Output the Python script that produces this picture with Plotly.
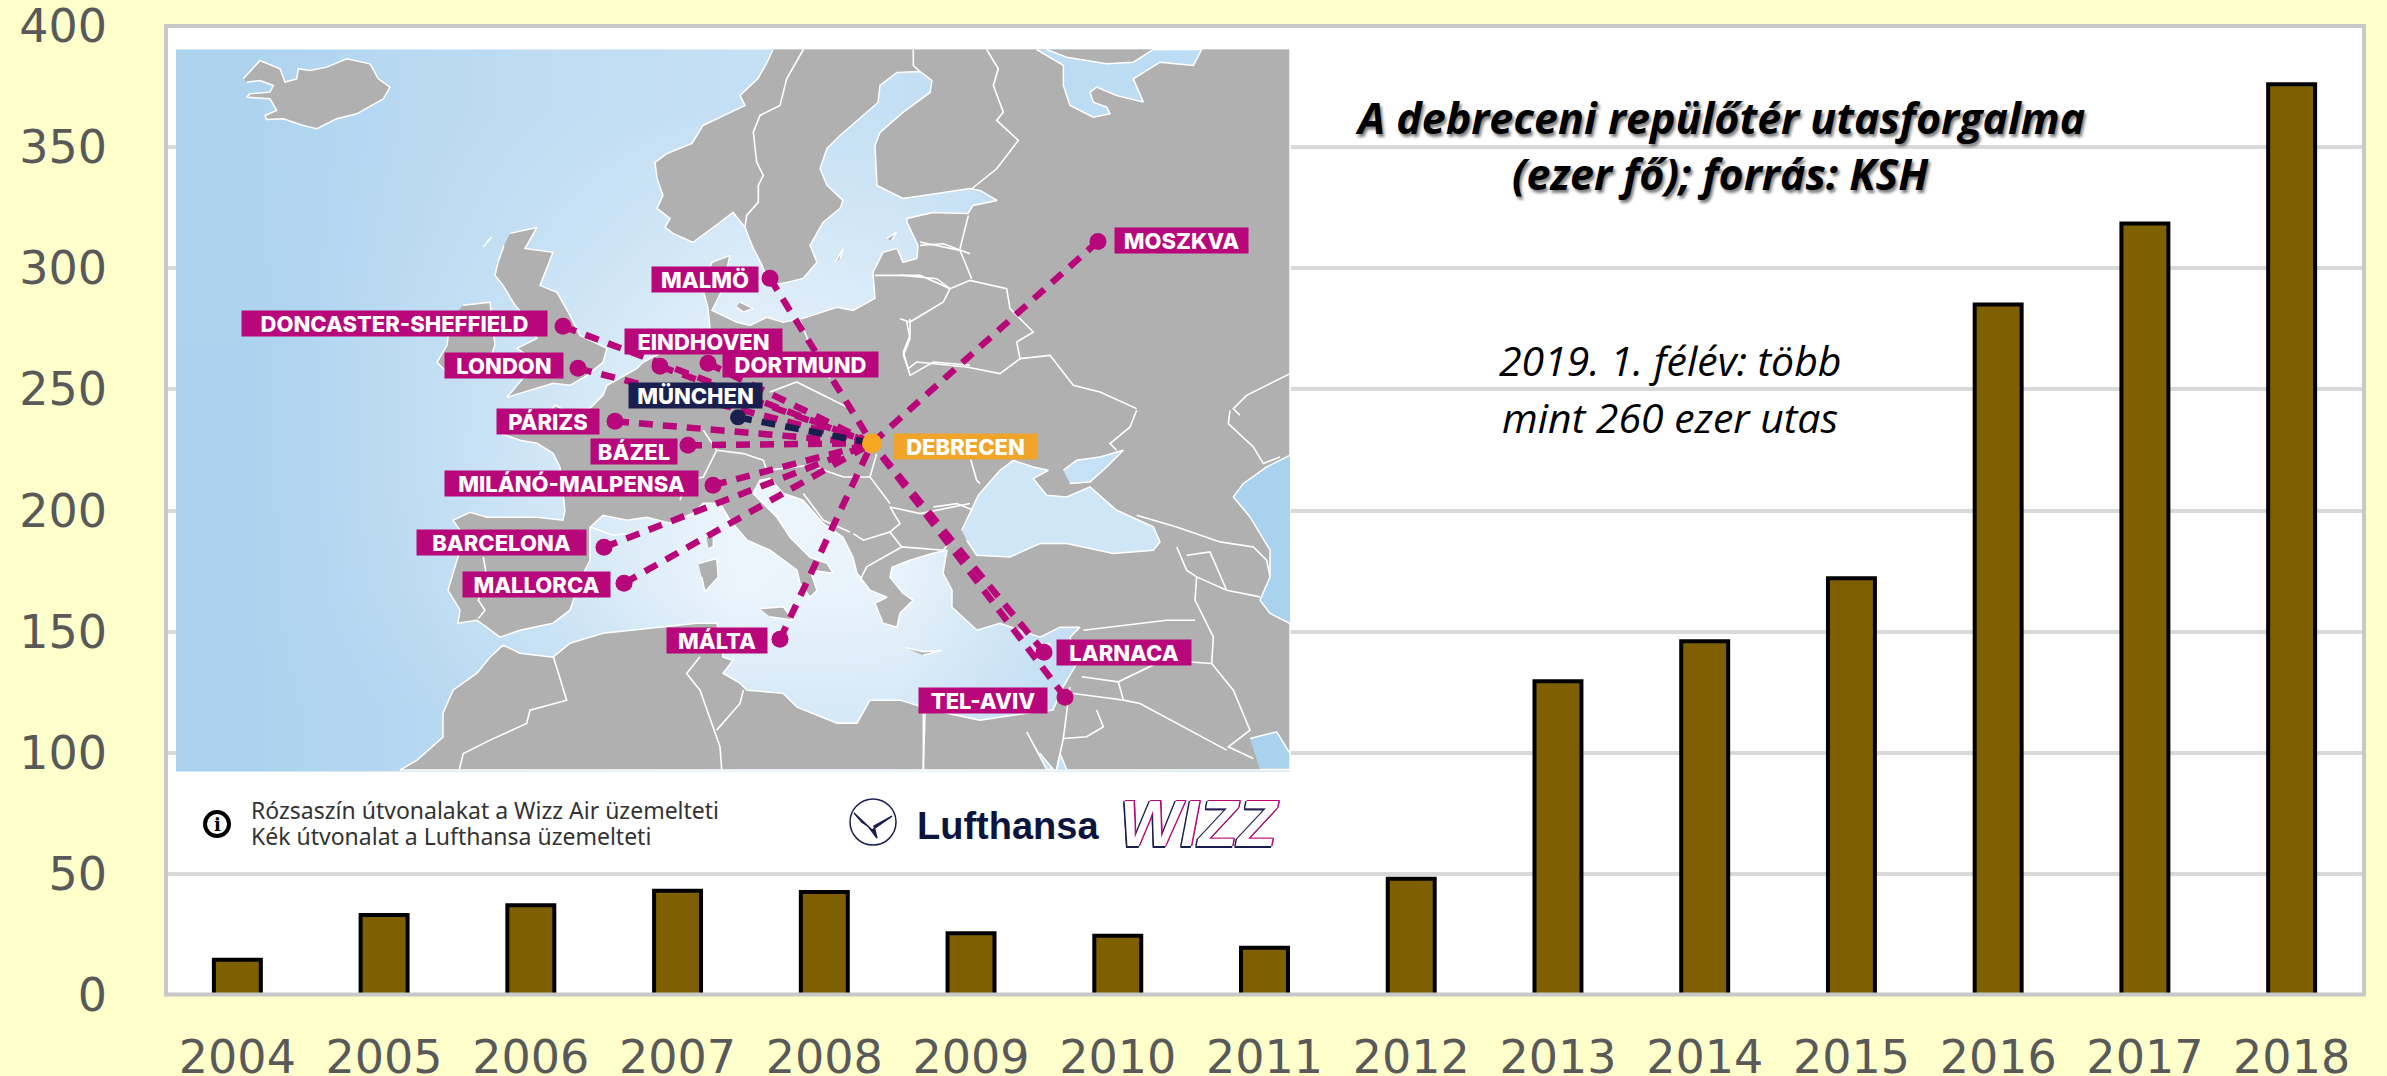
import plotly.graph_objects as go

# ---------- chart data ----------
YEARS = ["2004","2005","2006","2007","2008","2009","2010","2011","2012","2013","2014","2015","2016","2017","2018"]
PASSENGERS = [14.5,33,37,43,42.5,25.5,24.5,19.5,48,129.5,146,172,285,318.5,376]
Y_TICKS = [0,50,100,150,200,250,300,350,400]

TITLE_LINES = ["A debreceni repülőtér utasforgalma", "(ezer fő); forrás: KSH"]
NOTE_LINES = ["2019. 1. félév: több", "mint 260 ezer utas"]
FOOT_LINES = ["Rózsaszín útvonalakat a Wizz Air üzemelteti", "Kék útvonalat a Lufthansa üzemelteti"]

W, H = 2387, 1076
L, R, T, B = 164, 2365, 25.5, 995


def px(x):
    return (x - L) / (R - L)


def py(y):
    return (B - y) / (B - T)


def crop(ox, oy, pts):
    return [(ox + a / 3, oy + b / 3) for a, b in pts]


# ---------- decorative map geometry (page pixels) ----------
MAINLAND = [
 (773,49),(767,62),(758,78),(740,95),(745,105),(717,118),(703,125),(692,143),(667,153),(655,162),(657,178),(663,195),(657,208),
 (670,218),(665,227),(673,233),(693,242),(720,222),(733,212),(745,227),(752,245),(762,265),(770,285),(787,282),(803,278),(817,262),
 (810,245),(823,222),(840,208),(843,200),(827,185),(820,168),(827,148),(840,135),(863,115),(878,102),(880,85),(897,72),(920,71),(932,80),
 (930,92),(903,112),(880,132),(875,145),(877,185),(903,198),(937,193),(970,188),(980,190),(997,200),(973,205),(968,213),(933,212),(907,218),
 (907,222),(913,235),(918,245),(917,258),(903,262),(897,248),(883,252),(873,272),(875,298),(853,310),(837,307),(803,318),(783,322),(767,317),
 (750,325),(737,322),(712,310),(722,290),(730,255),(712,262),(702,285),(708,308),(710,328),(697,338),(670,348),(643,362),(637,368),(607,385),(603,395),
 (590,408),(565,410),(555,405),(545,418),(500,418),(497,432),(520,440),(537,443),(553,453),(560,467),(565,510),(563,520),(537,517),(487,517),
 (470,512),(453,520),(460,530),(460,550),(448,590),(460,610),(458,623),(477,620),(500,637),(520,630),(553,623),(570,610),(580,580),(590,560),
 (590,527),(603,515),(627,520),(647,517),(670,523),(693,513),(703,503),(720,503),(730,520),(747,540),(770,550),(797,570),(800,583),(810,597),
 (817,590),(810,570),(833,573),(827,563),(810,557),(790,537),(777,517),(753,493),(760,480),(770,478),(783,493),(803,500),(823,523),(843,537),
 (853,557),(857,573),(870,590),(887,597),(875,603),(883,623),(897,627),(900,613),(913,600),(903,593),(890,577),(892,567),(910,560),(933,553),
 (947,550),(943,573),(952,590),(952,607),(977,630),(1000,623),(1040,637),(1060,627),(1080,627),(1070,637),(1077,663),(1063,687),(1053,710),
 (1027,713),(980,720),(933,710),(900,700),(870,700),(857,723),(837,723),(797,707),(783,693),(747,690),(740,683),(723,673),(733,660),(723,657),
 (717,623),(697,623),(647,628),(603,633),(570,643),(553,657),(520,653),(503,645),(490,657),(477,673),(453,690),(443,713),(443,737),(417,760),
 (400,770),(1290,770),(1290,49),
]
ISLANDS = [
 crop(170,45,[(220,100),(270,45),(330,70),(345,110),(380,100),(385,70),(420,75),(470,65),(530,40),(600,55),(625,100),(660,125),(640,160),(560,205),(500,220),(440,250),(400,240),(340,220),(290,222),(285,210),(320,195),(300,160),(230,155),(240,145),(300,140),(310,120),(270,105),(230,110)]),
 [(510,233),(537,227),(525,248),(553,252),(540,285),(557,292),(570,315),(580,335),(607,348),(603,362),(587,375),(570,385),(553,383),(507,397),(523,378),(550,370),(517,348),(537,338),(528,320),(515,305),(503,285),(495,275),(498,262),(504,245)],
 [(463,305),(490,302),(495,345),(485,370),(450,375),(437,362),(447,345),(450,320)],
 crop(570,410,[(385,460),(440,445),(445,500),(405,545),(395,500)]),
 crop(570,410,[(410,380),(430,350),(430,410),(415,415)]),
 crop(570,410,[(570,595),(640,590),(670,630),(600,620)]),
 crop(570,410,[(1005,712),(1060,725),(1115,720),(1060,735)]),
 crop(570,45,[(795,650),(820,610),(810,640)]),
 crop(570,45,[(950,580),(980,560),(965,585)]),
 crop(170,45,[(940,605),(965,575),(950,590)]),
 crop(570,45,[(510,770),(550,790),(520,800),(500,785)]),
 crop(900,410,[(410,710),(450,700),(440,730),(420,735)]),
]
INLAND_SEAS = [
 ("#cfe6f7", crop(900,410,[(185,360),(235,255),(300,180),(340,150),(400,170),(445,180),(400,205),(440,255),(500,260),(570,230),(650,300),(760,350),(780,395),(760,420),(640,430),(500,400),(420,400),(330,440),(230,435),(200,390)])),
 ("#c6e1f5", crop(900,410,[(490,180),(530,150),(600,140),(670,120),(620,170),(570,215),(510,220)])),
 ("#a9d2ef", crop(900,410,[(1170,135),(1100,170),(1030,220),(1000,260),(1050,320),(1110,420),(1110,500),(1080,570),(1110,610),(1170,640)])),
 ("#c6e1f5", crop(900,410,[(380,965),(410,1020),(440,1078),(460,1078),(420,1030)])),
 ("#c6e1f5", crop(900,410,[(470,1078),(480,1030),(500,1078)])),
 ("#a9d2ef", crop(900,410,[(1050,985),(1130,965),(1170,1030),(1170,1078),(1080,1078)])),
 ("#bcdcf3", crop(900,45,[(410,12),(490,60),(490,120),(510,180),(580,215),(630,205),(620,185),(580,170),(570,140),(590,125),(650,150),(730,170),(700,100),(780,50),(880,60),(905,12),(760,12),(700,50),(620,55),(500,35),(440,12)])),
]
BORDERS = [
 crop(570,45,[(700,12),(650,100),(630,180),(570,210),(550,260),(560,350),(580,390),(565,420),(565,470),(530,510),(525,545)]),
 crop(570,45,[(1030,12),(1030,60),(1050,78)]),
 crop(900,45,[(260,12),(295,70),(280,120),(310,200),(290,225),(355,285),(290,370),(215,430)]),
 crop(570,45,[(915,690),(1000,690),(1100,700),(1140,730)]),
 crop(570,45,[(1050,600),(1120,595),(1200,625)]),
 crop(900,45,[(0,690),(60,690),(150,730),(130,770),(30,830),(0,820)]),
 crop(900,45,[(150,730),(210,705),(320,730),(330,790),(400,860),(350,890),(360,940),(300,985),(200,965),(50,950),(25,970)]),
 crop(900,45,[(60,590),(180,615),(215,700)]),
 crop(900,45,[(205,510),(180,610)]),
 crop(900,45,[(360,940),(450,930),(520,1020),(600,1040),(710,1090)]),
 crop(570,45,[(1020,820),(1020,870),(1000,920),(1020,990),(1090,950),(1200,960)]),
 crop(570,45,[(690,825),(720,900),(780,1000)]),
 crop(570,45,[(600,1040),(680,1010),(760,1050),(840,1090)]),
 crop(900,45,[(25,970),(10,930),(30,880),(20,830)]),
 crop(570,410,[(700,250),(760,330),(840,365)]),
 crop(570,410,[(850,370),(880,390),(960,365),(995,410),(890,470),(870,510)]),
 crop(570,410,[(960,290),(990,340),(960,365)]),
 crop(570,410,[(960,290),(1050,310),(1100,300),(1200,280)]),
 crop(570,410,[(995,410),(1120,420),(1150,380)]),
 crop(570,410,[(920,130),(900,200),(960,280)]),
 crop(570,410,[(580,150),(590,180),(720,165),(820,200),(900,200)]),
 crop(570,410,[(440,120),(520,130),(580,150)]),
 crop(570,410,[(330,270),(350,210),(400,200),(440,120),(400,60)]),
 crop(570,410,[(60,350),(130,375),(170,370)]),
 crop(170,410,[(940,440),(950,500),(925,570),(945,600),(925,625)]),
 crop(170,410,[(1150,740),(1165,790),(1190,870),(1080,900),(1070,940),(960,990),(880,1030),(868,1078)]),
 crop(570,410,[(390,740),(350,790),(390,840),(430,950),(450,1010),(455,1078)]),
 crop(570,410,[(520,840),(510,880),(440,960)]),
 crop(570,410,[(1065,910),(1060,1078)]),
 crop(900,410,[(710,315),(830,350),(960,395),(1060,410),(1100,450),(1110,500)]),
 crop(900,410,[(830,410),(860,480),(890,500),(885,570),(940,680),(935,760),(1000,840),(1050,960),(985,1010),(1060,1045)]),
 crop(900,410,[(860,435),(930,425),(980,540),(890,500)]),
 crop(900,410,[(980,540),(1080,560)]),
 crop(900,410,[(550,660),(800,630),(885,630)]),
 crop(900,410,[(545,800),(655,815),(790,750),(935,760)]),
 crop(900,410,[(655,815),(670,870),(520,850)]),
 crop(900,410,[(670,870),(720,880),(980,1020)]),
 crop(900,410,[(590,900),(610,950),(560,980),(490,985),(470,1078)]),
 crop(900,410,[(510,830),(490,985)]),
 crop(900,410,[(990,0),(985,40),(1060,110),(1090,160),(1140,140)]),
 crop(900,45,[(1170,985),(1080,1030),(1040,1050),(1000,1090),(1020,1110)]),
 crop(900,410,[(710,0),(690,50),(630,100),(650,120)]),
 crop(900,410,[(210,140),(230,210),(240,220)]),
 crop(900,410,[(100,290),(170,280),(220,300)]),
 crop(900,410,[(70,910),(70,1078)]),
]
SEA_X_EDGES = [176,335,495,655,815,975,1135,1290]
SEA_Y_EDGES = [49,169,289,409,529,649,771]
SEA_SHADE = [
 [.08,.22,.32,.38,.38,.25,.12],
 [.08,.25,.42,.60,.55,.30,.12],
 [.06,.30,.55,.80,.72,.40,.12],
 [.06,.30,.60,.92,.90,.45,.10],
 [.06,.27,.55,.90,.85,.42,.10],
 [.05,.18,.35,.60,.60,.35,.08],
]
HUB = (872,443)
ROUTES = [("Malmö",770,278),("Moszkva",1098,241),("Doncaster",563,326),("Eindhoven",660,366),("Dortmund",708,363),("London",578,368),
          ("Párizs",615,421),("Bázel",688,445),("Milánó",713,485),("Barcelona",604,547),("Mallorca",624,583),("Málta",780,639),
          ("Larnaca",1044,652),("Tel-Aviv",1065,697)]
LH_ROUTE = ("München",738,417)
MAP_LABELS = [
 ("MALMÖ",652,758,279,"#b8077a"),("MOSZKVA",1115,1248,240,"#b8077a"),("DONCASTER-SHEFFIELD",242,547,323,"#b8077a"),
 ("EINDHOVEN",625,782,341,"#b8077a"),("DORTMUND",723,878,364,"#b8077a"),("LONDON",445,563,365,"#b8077a"),
 ("MÜNCHEN",629,762,395,"#1b1f4f"),("PÁRIZS",497,599,421,"#b8077a"),("BÁZEL",591,677,451,"#b8077a"),
 ("MILÁNÓ-MALPENSA",445,698,483,"#b8077a"),("BARCELONA",417,586,542,"#b8077a"),("MALLORCA",463,610,584,"#b8077a"),
 ("MÁLTA",667,767,640,"#b8077a"),("DEBRECEN",894,1037,446,"#f0a52a"),("LARNACA",1057,1191,652,"#b8077a"),
 ("TEL-AVIV",919,1047,700,"#b8077a"),
]
PINK, NAVY = "#b8077a", "#1b1f4f"
MAP_AXES = dict(xaxis="x2", yaxis="y2", hoverinfo="skip", showlegend=False)


def unzip(polys):
    xs, ys = [], []
    for poly in polys:
        xs += [p[0] for p in poly] + [None]
        ys += [p[1] for p in poly] + [None]
    return xs, ys


fig = go.Figure()
fig.add_bar(x=YEARS, y=PASSENGERS, width=0.32, marker=dict(color="#7f6000", line=dict(color="#000000", width=4)),
            showlegend=False, hovertemplate="%{x}: %{y}<extra></extra>")

fig.add_trace(go.Heatmap(x=SEA_X_EDGES, y=SEA_Y_EDGES, z=SEA_SHADE, zmin=0, zmax=1, zsmooth="best", showscale=False,
                         colorscale=[[0, "#a8d0ee"], [1, "#f4f9fd"]], xaxis="x2", yaxis="y2", hoverinfo="skip"))
lx, ly = unzip([MAINLAND] + ISLANDS)
fig.add_scatter(x=lx, y=ly, mode="lines", fill="toself", fillcolor="#b0b0b0", line=dict(color="#ffffff", width=1.5), **MAP_AXES)
for colour, sea in INLAND_SEAS:
    sx, sy = unzip([sea])
    fig.add_scatter(x=sx, y=sy, mode="lines", fill="toself", fillcolor=colour, line=dict(color="#ffffff", width=1.5), **MAP_AXES)
bx, by = unzip(BORDERS)
fig.add_scatter(x=bx, y=by, mode="lines", line=dict(color="#ffffff", width=1.6), **MAP_AXES)

for name, x, y in ROUTES:
    fig.add_scatter(x=[x, HUB[0]], y=[y, HUB[1]], mode="lines", name=name, line=dict(color=PINK, width=6.5, dash="14px,10px"), **MAP_AXES)
fig.add_scatter(x=[LH_ROUTE[1], HUB[0]], y=[LH_ROUTE[2], HUB[1]], mode="lines", line=dict(color=NAVY, width=6.5, dash="14px,10px"), **MAP_AXES)
fig.add_scatter(x=[r[1] for r in ROUTES], y=[r[2] for r in ROUTES], mode="markers", marker=dict(color=PINK, size=17), **MAP_AXES)
fig.add_scatter(x=[LH_ROUTE[1]], y=[LH_ROUTE[2]], mode="markers", marker=dict(color=NAVY, size=16), **MAP_AXES)
fig.add_scatter(x=[HUB[0]], y=[HUB[1]], mode="markers", marker=dict(color="#f5a623", size=20), **MAP_AXES)

# footer icons
fig.add_scatter(x=[217], y=[824], mode="markers", marker=dict(symbol="circle-open", size=24, color="#000000", line=dict(width=4, color="#000000")), **MAP_AXES)
fig.add_scatter(x=[873], y=[822], mode="markers", marker=dict(symbol="circle-open", size=46, color=NAVY, line=dict(width=1.5, color=NAVY)), **MAP_AXES)
fig.add_scatter(x=[854,866,872,892,874,877,868,862,854], y=[813,824,830,816,826,838,826,822,813], mode="lines", fill="toself",
                fillcolor=NAVY, line=dict(color=NAVY, width=1.5), **MAP_AXES)

annos = []


def text(x, y, s, size, family, color, **kw):
    annos.append(dict(x=x, y=y, xref="x2", yref="y2", text=s, showarrow=False, xanchor=kw.pop("xanchor", "center"), yanchor="middle",
                      font=dict(size=size, family=family, color=color, **kw.pop("font", {})), **kw))


for name, x0, x1, yc, colour in MAP_LABELS:
    text((x0 + x1) / 2, yc, name, 22, "Inter", "#ffffff", bgcolor=colour, width=x1 - x0, height=25, align="center", valign="middle",
         borderpad=0, font=dict(weight=800))

SHADOW = "2px 3px 3px #808080"
text(1720, 117, TITLE_LINES[0], 43, "Open Sans", "#000000", font=dict(weight="bold", style="italic", shadow=SHADOW))
text(1720, 173, TITLE_LINES[1], 43, "Open Sans", "#000000", font=dict(weight="bold", style="italic", shadow=SHADOW))
text(1670, 360, NOTE_LINES[0], 41, "Open Sans", "#000000", font=dict(style="italic"))
text(1670, 417, NOTE_LINES[1], 41, "Open Sans", "#000000", font=dict(style="italic"))
text(249, 810, FOOT_LINES[0], 23, "Noto Sans", "#333333", xanchor="left")
text(249, 836, FOOT_LINES[1], 23, "Noto Sans", "#333333", xanchor="left")
text(217, 824, "<b>i</b>", 18, "DejaVu Serif", "#000000")
text(1008, 826, "Lufthansa", 38, "Liberation Sans", "#0b1540", font=dict(weight="bold"))
text(1199, 824, "WIZZ", 64, "Liberation Sans", "#ffffff",
     font=dict(weight="bold", style="italic", shadow="1.5px -1.5px 0 #b8077a,1.5px 0 0 #b8077a,-1.5px 1.5px 0 #1b1f4f,-1.5px 0 0 #1b1f4f,0 1.5px 0 #1b1f4f,0 -1.5px 0 #b8077a"))

shapes = [
    # white patches behind the two text blocks interrupt the gridlines
    dict(type="rect", layer="between", xref="paper", yref="paper", x0=px(1334), x1=px(2105), y0=py(160), y1=py(130), fillcolor="#ffffff", line_width=0),
    dict(type="rect", layer="between", xref="paper", yref="paper", x0=px(1435), x1=px(1906), y0=py(403), y1=py(375), fillcolor="#ffffff", line_width=0),
    # chart frame
    dict(type="rect", layer="above", xref="paper", yref="paper", x0=px(166), x1=px(2364), y0=py(994.5), y1=py(25.5), line=dict(color="#c8c8c8", width=4)),
]

fig.update_layout(
    width=W, height=H, autosize=False,
    margin=dict(l=L, r=W - R, t=T, b=H - B, pad=0),
    paper_bgcolor="#ffffcc", plot_bgcolor="#ffffff",
    showlegend=False, bargap=0.68, shapes=shapes, annotations=annos,
    xaxis=dict(type="category", categoryorder="array", categoryarray=YEARS, showgrid=False, zeroline=False, showline=False, ticks="",
               tickfont=dict(family="DejaVu Sans", size=46, color="#595959"), ticklabelstandoff=31, ticklabeloverflow="allow", fixedrange=True, automargin=False, tickangle=0),
    yaxis=dict(range=[0, 400], tickvals=Y_TICKS, showgrid=True, gridcolor="#d9d9d9", gridwidth=4, zeroline=False, showline=False, ticks="",
               tickfont=dict(family="DejaVu Sans", size=46, color="#595959"), ticklabelstandoff=56, ticklabeloverflow="allow", fixedrange=True, automargin=False),
    xaxis2=dict(overlaying="x", range=[L, R], visible=False, fixedrange=True),
    yaxis2=dict(overlaying="y", range=[B, T], visible=False, fixedrange=True),
)

fig.write_html("out.html", post_script="document.body.style.margin='0';", config=dict(displayModeBar=False))
